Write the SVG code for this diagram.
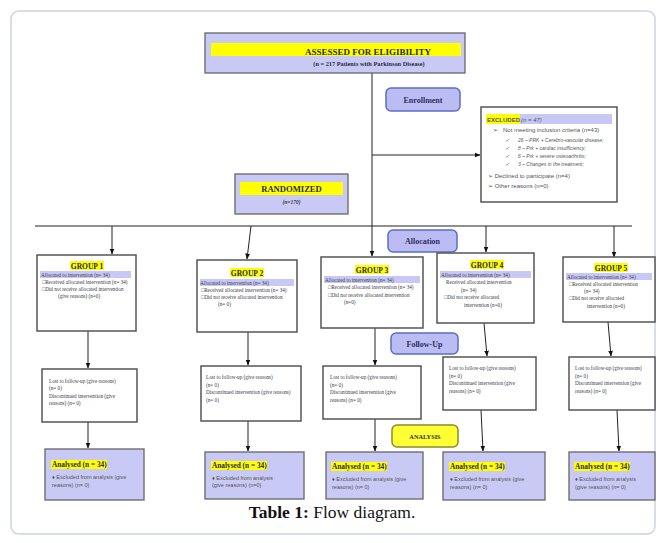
<svg xmlns="http://www.w3.org/2000/svg" width="665" height="543" viewBox="0 0 665 543">
<defs>
<marker id="ah" viewBox="0 0 10 10" refX="9" refY="5" markerWidth="6" markerHeight="6" orient="auto" markerUnits="userSpaceOnUse"><path d="M0,1 L10,5 L0,9 Z" fill="#111"/></marker>
<style>
.frame{fill:#fff;stroke:#c9d3e4;stroke-width:1.5}
.box{fill:#fff;stroke:#555;stroke-width:1.5}
.lav{fill:#c9c9f6;stroke:#666;stroke-width:1.3}
.tag{fill:#bcbcf4;stroke:#5a6fc0;stroke-width:1.5}
.tagy{fill:#ffff33;stroke:#8a8a30;stroke-width:1.5}
.hy{fill:#ffff00}
.hl{fill:#c8c8f6}
.ln{stroke:#222;stroke-width:1;fill:none}
.lna{stroke:#222;stroke-width:1;fill:none;marker-end:url(#ah)}
.t{font-family:"Liberation Serif","Times New Roman",serif;fill:#3a3a48}
.tb{font-family:"Liberation Serif","Times New Roman",serif;font-weight:bold;fill:#2a2a3a}
.s{font-family:"Liberation Sans",Arial,sans-serif;fill:#555}
.g{font-size:5.2px}
.gt{font-size:7.5px;font-weight:bold;font-family:"Liberation Serif",serif;fill:#2a2a3a}
.an{font-size:7.3px}
.ex{font-size:5.5px}
.tagt{font-size:8px;fill:#2e2e5e}
.xc{font-size:6px}
</style>
</defs>
<rect class="frame" x="11" y="11" width="644" height="523" rx="8"/>

<g id="connectors">
<line class="ln" x1="372" y1="73" x2="372" y2="226"/>
<line class="lna" x1="372" y1="226" x2="372" y2="256"/>
<line class="lna" x1="372" y1="155" x2="480" y2="155"/>
<line class="ln" x1="35" y1="226" x2="632" y2="226"/>
<line class="lna" x1="112" y1="226" x2="112" y2="254"/>
<line class="lna" x1="251" y1="226" x2="247" y2="259"/>
<line class="lna" x1="486" y1="226" x2="486" y2="252"/>
<line class="lna" x1="614" y1="226" x2="614" y2="257"/>
<line class="lna" x1="88" y1="331" x2="88" y2="368"/>
<line class="lna" x1="248" y1="332" x2="248" y2="365"/>
<line class="lna" x1="375" y1="328" x2="375" y2="365"/>
<line class="lna" x1="484" y1="323" x2="487" y2="356"/>
<line class="lna" x1="608" y1="322" x2="611" y2="356"/>
<line class="lna" x1="88" y1="422" x2="88" y2="448"/>
<line class="lna" x1="248" y1="421" x2="248" y2="451"/>
<line class="lna" x1="375" y1="419" x2="375" y2="451"/>
<line class="lna" x1="481" y1="410" x2="483" y2="451"/>
<line class="lna" x1="617" y1="410" x2="619" y2="451"/>
</g>

<g id="assessed">
<rect class="lav" x="205" y="33" width="260" height="40"/>
<rect class="hy" x="211" y="43" width="250" height="13"/>
<text class="tb" x="368" y="54.5" font-size="9" text-anchor="middle">ASSESSED  FOR  ELIGIBILITY</text>
<text class="tb" x="369" y="65.5" font-size="6.3" text-anchor="middle">(n = 217 Patients with Parkinson Disease)</text>
</g>

<g id="enrollment">
<rect class="tag" x="386" y="88" width="74" height="23" rx="5"/>
<text class="tb tagt" x="423" y="102.5" text-anchor="middle">Enrollment</text>
</g>

<g id="excluded">
<rect class="box" x="481" y="107" width="136" height="95" stroke-width="1.2"/>
<rect class="hl" x="486" y="114" width="126" height="10"/>
<rect class="hy" x="486" y="114" width="34" height="10"/>
<text class="s xc" x="487" y="121.5" font-weight="bold" fill="#333">EXCLUDED</text>
<text class="s xc" x="521" y="121.5" font-style="italic" fill="#445">(n = 47)</text>
<text class="s xc" x="493" y="131.5">➢</text>
<text class="s xc" x="503" y="131.5">Not meeting inclusion criteria (n=43)</text>
<g font-style="italic">
<text class="s" font-size="5" x="505" y="142">✓</text><text class="s" font-size="5" x="518" y="142">26 – PRK  + Cerebro-vascular  disease;</text>
<text class="s" font-size="5" x="505" y="150">✓</text><text class="s" font-size="5" x="518" y="150">8 – Prk + cardiac insufficiency;</text>
<text class="s" font-size="5" x="505" y="158">✓</text><text class="s" font-size="5" x="518" y="158">6 – Prk + severe osteoarthritis;</text>
<text class="s" font-size="5" x="505" y="166">✓</text><text class="s" font-size="5" x="518" y="166">3 – Changes in the treatment;</text>
</g>
<text class="s xc" x="488" y="177.5">➢ Declined to participate (n=4)</text>
<text class="s xc" x="488" y="187.5">➢ Other  reasons  (n=0)</text>
</g>

<g id="randomized">
<rect class="lav" x="235" y="174" width="113" height="40"/>
<rect class="hy" x="240" y="182" width="103" height="13"/>
<text class="tb" x="291.5" y="192" font-size="8.6" text-anchor="middle">RANDOMIZED</text>
<text class="t" x="291.5" y="203.5" font-size="5.5" font-style="italic" font-weight="bold" text-anchor="middle">(n=170)</text>
</g>

<g id="allocation">
<rect class="tag" x="388" y="230" width="69" height="22" rx="5"/>
<text class="tb tagt" x="422.5" y="244" font-size="7" text-anchor="middle">Allocation</text>
</g>

<g id="group1">
<rect class="box" x="37" y="255" width="99" height="76"/>
<rect class="hy" x="70" y="261" width="34" height="9"/>
<text class="gt" x="87" y="268.5" text-anchor="middle">GROUP 1</text>
<rect class="hl" x="40" y="271" width="91" height="7"/>
<text class="t g" x="41" y="276.5">Allocated to intervention (n= 34)</text>
<text class="t g" x="42" y="284">□Received allocated intervention (n= 34)</text>
<text class="t g" x="42" y="291">□Did not receive allocated intervention</text>
<text class="t g" x="58" y="298">(give reasons) (n=0)</text>
</g>

<g id="group2">
<rect class="box" x="197" y="260" width="100" height="72"/>
<rect class="hy" x="230" y="268" width="34" height="9"/>
<text class="gt" x="247" y="275.5" text-anchor="middle">GROUP 2</text>
<rect class="hl" x="200" y="279" width="94" height="7"/>
<text class="t g" x="200" y="284.5">Allocated to intervention (n= 34)</text>
<text class="t g" x="201" y="291.5">□Received allocated intervention (n= 34)</text>
<text class="t g" x="201" y="298.5">□Did  not  receive  allocated  intervention</text>
<text class="t g" x="218" y="306">(n= 0)</text>
</g>

<g id="group3">
<rect class="box" x="321" y="257" width="102" height="71"/>
<rect class="hy" x="355" y="265" width="34" height="9"/>
<text class="gt" x="372" y="272.5" text-anchor="middle">GROUP 3</text>
<rect class="hl" x="324" y="276" width="96" height="7"/>
<text class="t g" x="325" y="281.5">Allocated to intervention (n= 34)</text>
<text class="t g" x="328" y="289">□Received allocated intervention (n= 34)</text>
<text class="t g" x="328" y="296.5">□Did not  receive allocated intervention</text>
<text class="t g" x="344" y="304">(n=0)</text>
</g>

<g id="group4">
<rect class="box" x="437" y="253" width="97" height="70"/>
<rect class="hy" x="470" y="260" width="34" height="9"/>
<text class="gt" x="487" y="267.5" text-anchor="middle">GROUP 4</text>
<rect class="hl" x="440" y="271" width="91" height="7"/>
<text class="t g" x="441" y="276.5">Allocated to intervention (n= 34)</text>
<text class="t g" x="446" y="284">Received allocated intervention</text>
<text class="t g" x="461" y="291.5">(n= 34)</text>
<text class="t g" x="444" y="299">□Did not receive allocated</text>
<text class="t g" x="464" y="306.5">intervention (n=0)</text>
</g>

<g id="group5">
<rect class="box" x="563" y="257" width="92" height="65"/>
<rect class="hy" x="594" y="263" width="34" height="9"/>
<text class="gt" x="611" y="270.5" text-anchor="middle">GROUP 5</text>
<rect class="hl" x="566" y="273" width="86" height="7"/>
<text class="t g" x="567" y="278.5">Allocated to intervention (n= 34)</text>
<text class="t g" x="569" y="285.5">□Received allocated intervention</text>
<text class="t g" x="584" y="292.5">(n= 34)</text>
<text class="t g" x="569" y="300">□Did not receive allocated</text>
<text class="t g" x="587" y="307.5">intervention (n=0)</text>
</g>

<g id="followup">
<rect class="tag" x="391" y="333" width="67" height="21" rx="5"/>
<text class="tb tagt" x="424.5" y="346.5" font-size="6.8" text-anchor="middle">Follow-Up</text>
</g>

<g id="lost1">
<rect class="box" x="42" y="369" width="95" height="53"/>
<text class="t g" x="49" y="383">Lost to follow-up (give reasons)</text>
<text class="t g" x="49" y="390">(n= 0)</text>
<text class="t g" x="49" y="397.5">Discontinued intervention (give</text>
<text class="t g" x="49" y="405">reasons)  (n= 0)</text>
</g>
<g id="lost2">
<rect class="box" x="201" y="366" width="100" height="55"/>
<text class="t g" x="206" y="379">Lost to follow-up (give reasons)</text>
<text class="t g" x="206" y="386.5">(n= 0)</text>
<text class="t g" x="206" y="394">Discontinued intervention (give reasons)</text>
<text class="t g" x="206" y="401.5">(n= 0)</text>
</g>
<g id="lost3">
<rect class="box" x="323" y="366" width="98" height="53"/>
<text class="t g" x="330" y="379">Lost to follow-up (give reasons)</text>
<text class="t g" x="330" y="386.5">(n= 0)</text>
<text class="t g" x="330" y="394">Discontinued intervention (give</text>
<text class="t g" x="330" y="401.5">reasons) (n= 0)</text>
</g>
<g id="lost4">
<rect class="box" x="443" y="357" width="93" height="53"/>
<text class="t g" x="449" y="370">Lost to follow-up (give reasons)</text>
<text class="t g" x="449" y="377.5">(n= 0)</text>
<text class="t g" x="449" y="385">Discontinued intervention (give</text>
<text class="t g" x="449" y="392.5">reasons) (n= 0)</text>
</g>
<g id="lost5">
<rect class="box" x="569" y="357" width="86" height="53"/>
<text class="t g" x="575" y="370">Lost to follow-up (give reasons)</text>
<text class="t g" x="575" y="377.5">(n= 0)</text>
<text class="t g" x="575" y="385">Discontinued intervention (give</text>
<text class="t g" x="575" y="392.5">reasons) (n= 0)</text>
</g>

<g id="analysis">
<rect class="tagy" x="392" y="425" width="66" height="22" rx="5"/>
<text class="tb" x="425" y="438.5" font-size="6.3" text-anchor="middle">ANALYSIS</text>
</g>

<g id="analysed1">
<rect class="lav" x="45" y="449" width="99" height="51"/>
<rect class="hy" x="51" y="460" width="56" height="9"/>
<text class="tb an" x="52" y="467">Analysed  (n = 34)</text>
<text class="s ex" x="52" y="479">♦ Excluded from analysis  (give</text>
<text class="s ex" x="52" y="486.5">reasons) (n= 0)</text>
</g>
<g id="analysed2">
<rect class="lav" x="205" y="452" width="99" height="47"/>
<rect class="hy" x="211" y="461" width="56" height="9"/>
<text class="tb an" x="212" y="468">Analysed  (n = 34)</text>
<text class="s ex" x="212" y="479.5">♦ Excluded from analysis</text>
<text class="s ex" x="212" y="487">(give reasons) (n=0)</text>
</g>
<g id="analysed3">
<rect class="lav" x="326" y="452" width="97" height="47"/>
<rect class="hy" x="331" y="462" width="56" height="9"/>
<text class="tb an" x="332" y="469">Analysed  (n = 34)</text>
<text class="s ex" x="332" y="481">♦ Excluded from analysis  (give</text>
<text class="s ex" x="332" y="488.5">reasons) (n= 0)</text>
</g>
<g id="analysed4">
<rect class="lav" x="443" y="452" width="102" height="48"/>
<rect class="hy" x="449" y="462" width="56" height="9"/>
<text class="tb an" x="450" y="469">Analysed  (n = 34)</text>
<text class="s ex" x="450" y="481">♦ Excluded from analysis  (give</text>
<text class="s ex" x="450" y="488.5">reasons) (n= 0)</text>
</g>
<g id="analysed5">
<rect class="lav" x="569" y="452" width="86" height="48"/>
<rect class="hy" x="574" y="462" width="56" height="9"/>
<text class="tb an" x="575" y="469">Analysed  (n = 34)</text>
<text class="s ex" x="575" y="481">♦ Excluded from analysis</text>
<text class="s ex" x="575" y="488.5">(give reasons) (n= 0)</text>
</g>

<text x="332" y="518" font-family="'Liberation Serif','Times New Roman',serif" font-size="17.5" fill="#111" text-anchor="middle"><tspan font-weight="bold">Table 1:</tspan> Flow diagram.</text>
</svg>
